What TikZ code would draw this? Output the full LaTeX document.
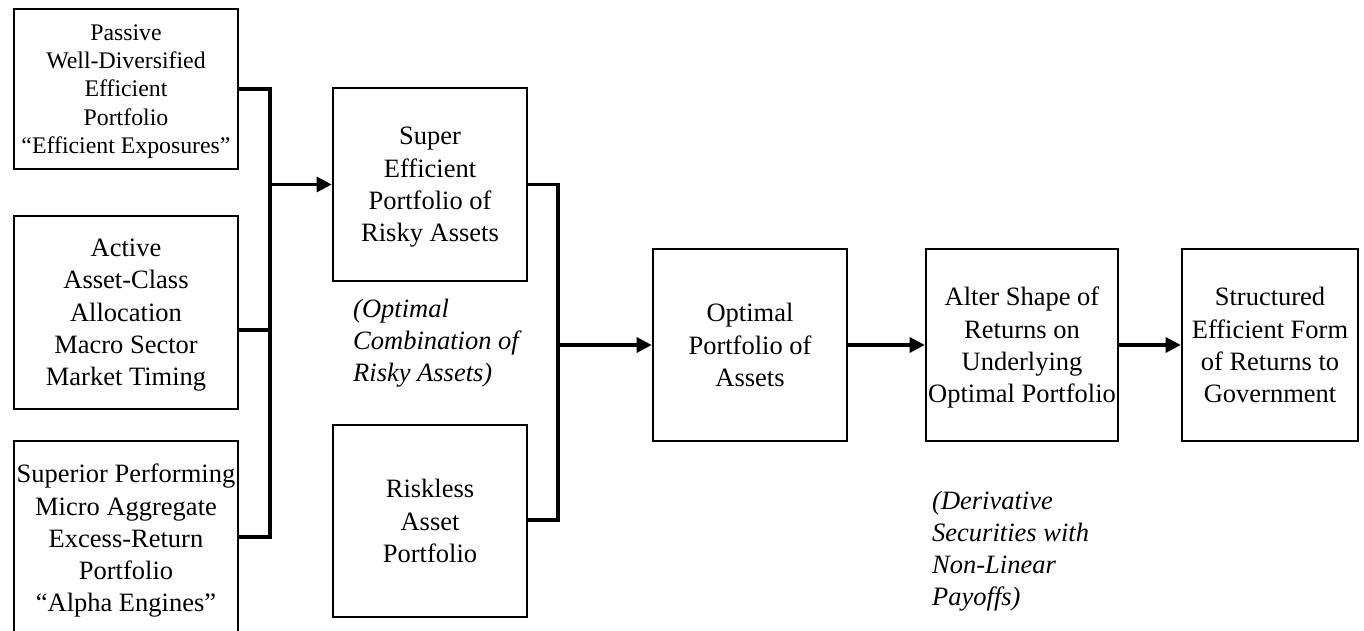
\documentclass[tikz,border=0pt]{standalone}
\usepackage{fontspec}
\setmainfont{Liberation Serif}
\usetikzlibrary{arrows.meta}
\tikzset{
  box/.style={draw=black, line width=2.6pt, inner sep=0pt, align=center,
    text depth=0pt, font=\fontsize{26.5}{32.3}\selectfont},
  conn/.style={draw=black, line width=3.2pt, line join=miter},
  arr/.style={conn, -{Triangle[length=15pt,width=15pt]}},
  note/.style={inner sep=0pt, align=left, anchor=north west,
    font=\fontsize{26.5}{32}\selectfont\itshape}
}
\begin{document}
\begin{tikzpicture}[x=1pt,y=-1pt]
\useasboundingbox (0,0) rectangle (1364,631);
\clip (0,0) rectangle (1364,631);
% left column
\node[box, minimum width=224pt, minimum height=160pt,
  font=\fontsize{23.8}{28.4}\selectfont] (b1) at (126,89)
  {Passive\\ Well-Diversified\\ Efficient\\ Portfolio\\ ``Efficient Exposures''};
\node[box, minimum width=224pt, minimum height=193pt] (b2) at (126,312.5)
  {Active\\ Asset-Class\\ Allocation\\ Macro Sector\\ Market Timing};
\node[box, minimum width=224pt, minimum height=194pt] (b3) at (126,538)
  {Superior Performing\\ Micro Aggregate\\ Excess-Return\\ Portfolio\\ ``Alpha Engines''};
% second column
\node[box, minimum width=194pt, minimum height=193pt] (b4) at (430,184.5)
  {Super\\ Efficient\\ Portfolio of\\ Risky Assets};
\node[box, minimum width=194pt, minimum height=192pt] (b5) at (430,521)
  {Riskless\\ Asset\\ Portfolio};
% chain
\node[box, minimum width=194pt, minimum height=192pt] (b6) at (750,345)
  {Optimal\\ Portfolio of\\ Assets};
\node[box, minimum width=192pt, minimum height=192pt] (b7) at (1022,345)
  {Alter Shape of\\ Returns on\\ Underlying\\ Optimal Portfolio};
\node[box, minimum width=176pt, minimum height=192pt] (b8) at (1270,345)
  {Structured\\ Efficient Form\\ of Returns to\\ Government};
% notes
\node[note] (n1) at (353,299)
  {(Optimal\\ Combination of\\ Risky Assets)};
\node[note] (n2) at (932,491)
  {(Derivative\\ Securities with\\ Non-Linear\\ Payoffs)};
% junctions
\coordinate (j1) at (270,89);
\coordinate (j2) at (270,330);
\coordinate (j3) at (270,537);
\coordinate (k1) at (558,184.5);
\coordinate (k2) at (558,520);
\coordinate (kb) at (558,345);
% connectors
\draw[conn] (b1.east) -- (j1) -- (j3) -- (j3 -| b3.east);
\draw[conn] (j2 -| b2.east) -- (j2);
\draw[arr] (b4.west -| j1) -- (b4.west);
\draw[conn] (b4.east) -- (k1) -- (k2) -- (k2 -| b5.east);
\draw[arr] (kb) -- (b6.west);
\draw[arr] (b6.east) -- (b7.west);
\draw[arr] (b7.east) -- (b8.west);
\end{tikzpicture}
\end{document}
